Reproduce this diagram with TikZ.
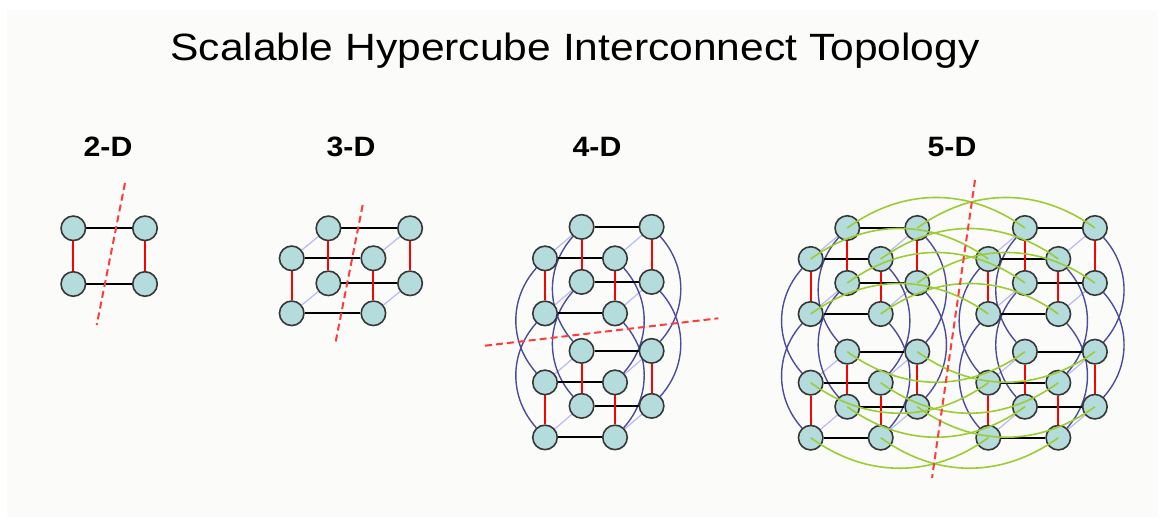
\documentclass[tikz,border=0pt]{standalone}
\usepackage{fontspec}
\setmainfont{Liberation Sans}
\usepackage{xcolor}
\usepackage{tikz}
\usetikzlibrary{positioning}

\definecolor{paper}{RGB}{251,252,249}
\definecolor{nodefill}{RGB}{180,220,220}
\definecolor{rim}{RGB}{55,55,55}
\definecolor{depth}{RGB}{185,185,245}
\definecolor{dimfour}{RGB}{75,75,160}
\definecolor{dimfive}{RGB}{155,205,50}
\definecolor{cutred}{RGB}{255,60,60}

\tikzset{
	depthedge/.style={draw=depth,line width=1.2pt},
	fouredge/.style={draw=dimfour,line width=1.4pt},
	fiveedge/.style={draw=dimfive,line width=1.6pt},
	hedge/.style={draw=black,line width=2pt},
	vedge/.style={draw=red,line width=2pt},
	cutline/.style={draw=cutred,line width=2pt,dash pattern=on 7pt off 4pt}
}

\pgfdeclarelayer{sheet}
\pgfdeclarelayer{back}
\pgfsetlayers{sheet,back,main}

\begin{document}
\begin{tikzpicture}[x=1pt,y=-1pt]
	\useasboundingbox (0,0) rectangle (1165,527);
	\begin{pgfonlayer}{sheet}
		\fill[white] (0,0) rectangle (1165,527);
		\fill[paper] (7,10) rectangle (1158,517);
	\end{pgfonlayer}

	\node[font=\fontsize{38}{44}\selectfont,xscale=1.12,anchor=base] (title) at (575,61) {Scalable Hypercube Interconnect Topology};

	\begin{scope}[every node/.style={font=\bfseries\fontsize{28}{32}\selectfont,anchor=base,xscale=1.08}]
		\node (lab2) at (108,156.5) {2-D};
		\node (lab3) at (351,156.5) {3-D};
		\node (lab4) at (597,156.5) {4-D};
		\node (lab5) at (952,156.5) {5-D};
	\end{scope}

	\begin{scope}[every node/.style={circle,draw=rim,fill=nodefill,line width=1.6pt,minimum size=24.5pt,inner sep=0pt}]
		% 2-D
		\foreach \x in {0,1}
		\foreach \y in {0,1}
		{
			\node (b\x\y) at ({73.3+71.7*\x},{228.3+55.7*\y}) {};
		}
		% 3-D
		\foreach \x in {0,1}
		\foreach \y in {0,1}
		\foreach \z in {0,1}
		{
			\node (c\x\y\z) at ({291.7+81.7*\x+36.7*\z},{258.3+55*\y-30*\z}) {};
		}
		% 4-D
		\foreach \x in {0,1}
		\foreach \y in {0,1}
		\foreach \z in {0,1}
		\foreach \w in {0,1}
		{
			\node (q\x\y\z\w) at ({545+70*\x+36.6*\z},{258.4+55*\y-31.5*\z+124*\w}) {};
		}
		% 5-D
		\foreach \x in {0,1}
		\foreach \y in {0,1}
		\foreach \z in {0,1}
		\foreach \w in {0,1}
		\foreach \v in {0,1}
		{
			\node (p\x\y\z\w\v) at ({810.7+177.6*\v+70*\x+36.6*\z},{259+55*\y-31*\z+123.7*\w}) {};
		}
	\end{scope}

	\begin{pgfonlayer}{back}
		% depth edges
		\foreach \x in {0,1}
		\foreach \y in {0,1}
		{
			\draw[depthedge] (c\x\y0) -- (c\x\y1);
			\foreach \w in {0,1}
			{
				\draw[depthedge] (q\x\y0\w) -- (q\x\y1\w);
				\draw[depthedge] (p\x\y0\w0) -- (p\x\y1\w0);
				\draw[depthedge] (p\x\y0\w1) -- (p\x\y1\w1);
			}
		}
		% fourth dimension
		\foreach \x/\bd in {0/-42,1/42}
		\foreach \y in {0,1}
		\foreach \z in {0,1}
		{
			\draw[fouredge] (q\x\y\z0) to[bend left=\bd] (q\x\y\z1);
			\draw[fouredge] (p\x\y\z00) to[bend left=\bd] (p\x\y\z10);
			\draw[fouredge] (p\x\y\z01) to[bend left=\bd] (p\x\y\z11);
		}
		% horizontal edges
		\draw[hedge] (b00) -- (b10);
		\draw[hedge] (b01) -- (b11);
		\foreach \y in {0,1}
		\foreach \z in {0,1}
		{
			\draw[hedge] (c0\y\z) -- (c1\y\z);
			\foreach \w in {0,1}
			{
				\draw[hedge] (q0\y\z\w) -- (q1\y\z\w);
				\draw[hedge] (p0\y\z\w0) -- (p1\y\z\w0);
				\draw[hedge] (p0\y\z\w1) -- (p1\y\z\w1);
			}
		}
		% vertical edges
		\draw[vedge] (b00) -- (b01);
		\draw[vedge] (b10) -- (b11);
		\foreach \x in {0,1}
		\foreach \z in {0,1}
		{
			\draw[vedge] (c\x0\z) -- (c\x1\z);
			\foreach \w in {0,1}
			{
				\draw[vedge] (q\x0\z\w) -- (q\x1\z\w);
				\draw[vedge] (p\x0\z\w0) -- (p\x1\z\w0);
				\draw[vedge] (p\x0\z\w1) -- (p\x1\z\w1);
			}
		}
	\end{pgfonlayer}

	% fifth dimension
	\foreach \w/\bd in {0/36,1/-36}
	\foreach \x in {0,1}
	\foreach \y in {0,1}
	\foreach \z in {0,1}
	{
		\draw[fiveedge] (p\x\y\z\w0.center) to[bend left=\bd] (p\x\y\z\w1.center);
	}

	% cut lines
	\coordinate (cut2a) at (125,183);
	\coordinate (cut2b) at (96.7,325);
	\coordinate (cut3a) at (362.7,205);
	\coordinate (cut3b) at (335,345);
	\coordinate (cut4a) at (485,345.7);
	\coordinate (cut4b) at (718.3,318.3);
	\coordinate (cut5a) at (975,180);
	\coordinate (cut5b) at (932,478);
	\draw[cutline] (cut2a) -- (cut2b);
	\draw[cutline] (cut3a) -- (cut3b);
	\draw[cutline] (cut4a) -- (cut4b);
	\draw[cutline] (cut5a) -- (cut5b);
\end{tikzpicture}
\end{document}
